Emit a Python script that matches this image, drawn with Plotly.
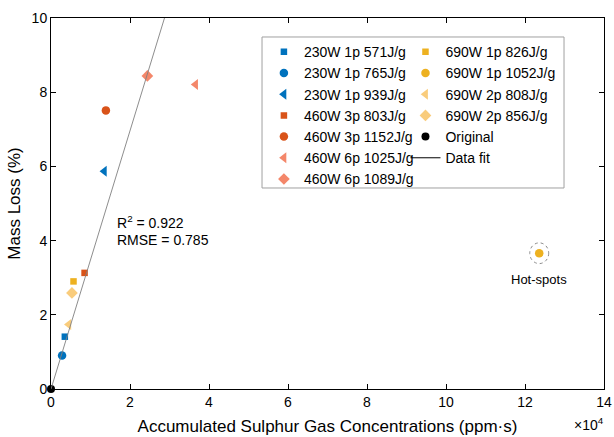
import plotly.graph_objects as go

# ---- data (x in units of 1e4 ppm·s, y in %) ----
names = ["230W 1p 571J/g", "230W 1p 765J/g", "230W 1p 939J/g",
         "460W 3p 803J/g", "460W 3p 1152J/g", "460W 6p 1025J/g", "460W 6p 1089J/g",
         "690W 1p 826J/g", "690W 1p 1052J/g", "690W 2p 808J/g", "690W 2p 856J/g",
         "Original"]
x_vals = [0.35, 0.28, 1.35, 0.85, 1.39, 3.66, 2.44, 0.57, 12.36, 0.45, 0.53, 0.0]
y_vals = [1.41, 0.90, 5.87, 3.13, 7.51, 8.21, 8.44, 2.90, 3.66, 1.74, 2.59, 0.0]
symbols = ["square", "circle", "triangle-left", "square", "circle", "triangle-left", "diamond",
           "square", "circle", "triangle-left", "diamond", "circle"]
colors = ["#0072BD", "#0072BD", "#0072BD", "#D95319", "#D95319", "#F4876A", "#F4876A",
          "#EDB120", "#EDB120", "#F9CC7C", "#F9CC7C", "#000000"]
sizes = [6.5, 8.5, 9.5, 6.5, 8.5, 9.5, 9, 6.5, 8.5, 9.5, 9, 8]
legend_col = [1, 1, 1, 1, 1, 1, 1, 2, 2, 2, 2, 2]

fit_slope = 3.48          # % per 1e4 ppm·s
fit_x = [0.0, 3.2]
fit_y = [fit_slope * v for v in fit_x]

r2_text = "R<sup>2</sup> = 0.922"
rmse_text = "RMSE = 0.785"
hotspot_index = 8

x_ticks = [0, 2, 4, 6, 8, 10, 12, 14]
y_ticks = [0, 2, 4, 6, 8, 10]

FONT = "Liberation Sans, Arial, sans-serif"

fig = go.Figure()

for i, n in enumerate(names):
    fig.add_trace(go.Scatter(
        x=[x_vals[i]], y=[y_vals[i]], mode="markers", name=n,
        marker=dict(symbol=symbols[i], color=colors[i], size=sizes[i], line=dict(width=0)),
        legend="legend" if legend_col[i] == 1 else "legend2",
        legendgroup=n, cliponaxis=False,
    ))

# data fit line (drawn on top of markers)
fig.add_trace(go.Scatter(
    x=fit_x, y=fit_y, mode="lines", name="Data fit",
    line=dict(color="#808080", width=0.9), legend="legend2", legendgroup="fit",
    showlegend=False,
))
# legend entry for the fit line in black
fig.add_trace(go.Scatter(
    x=[None], y=[None], mode="lines", name="Data fit",
    line=dict(color="#000000", width=1), legend="legend2", legendgroup="fit",
))

# hot-spot dotted ellipse
hx, hy = x_vals[hotspot_index], y_vals[hotspot_index]
fig.add_shape(type="circle", xref="x", yref="y",
              x0=hx - 0.24, x1=hx + 0.24, y0=hy - 0.28, y1=hy + 0.28,
              line=dict(color="#8c8c8c", width=1, dash="dot"))
fig.add_annotation(x=hx, y=hy - 0.72, xref="x", yref="y", text="Hot-spots",
                   showarrow=False, yanchor="middle", font=dict(size=13, color="black"))

fig.add_annotation(x=1.62, y=4.5, xref="x", yref="y", text=r2_text, showarrow=False,
                   xanchor="left", yanchor="middle", font=dict(size=14, color="black"))
fig.add_annotation(x=1.62, y=4.02, xref="x", yref="y", text=rmse_text, showarrow=False,
                   xanchor="left", yanchor="middle", font=dict(size=14, color="black"))

# x10^4 multiplier
fig.add_annotation(x=0.972, y=-0.125, xref="paper", yref="paper", text="×10<sup>4</sup>",
                   showarrow=False, xanchor="center", yanchor="bottom",
                   font=dict(size=14, color="black"))

# legend box
fig.add_shape(type="rect", xref="paper", yref="paper",
              x0=0.3816, x1=0.9277, y0=0.5418, y1=0.9488,
              line=dict(color="#a0a0a0", width=1), fillcolor="white", layer="below")

axis_common = dict(showgrid=False, zeroline=False, showline=True, linecolor="black",
                   linewidth=1, mirror="ticks", ticks="inside", ticklen=5,
                   tickcolor="black", tickfont=dict(size=14, color="black"),
                   automargin=False)

fig.update_layout(
    width=614, height=437,
    margin=dict(l=51, r=10, t=18, b=48, autoexpand=False),
    paper_bgcolor="white", plot_bgcolor="white",
    font=dict(family=FONT, color="black"),
    xaxis=dict(range=[0, 14], tickvals=x_ticks,
               title=dict(text="Accumulated Sulphur Gas Concentrations (ppm·s)",
                          font=dict(size=17), standoff=11), **axis_common),
    yaxis=dict(range=[0, 10], tickvals=y_ticks,
               title=dict(text="Mass Loss (%)", font=dict(size=17), standoff=6), **axis_common),
    legend=dict(x=0.385, y=0.951, xanchor="left", yanchor="top", bgcolor="rgba(0,0,0,0)",
                font=dict(size=14), traceorder="grouped", tracegroupgap=0, itemwidth=30),
    legend2=dict(x=0.641, y=0.951, xanchor="left", yanchor="top", bgcolor="rgba(0,0,0,0)",
                 font=dict(size=14), traceorder="grouped", tracegroupgap=0, itemwidth=30),
    showlegend=True,
)

fig.write_html("out.html", config={"displayModeBar": False},
               post_script="document.body.style.margin='0px';")
